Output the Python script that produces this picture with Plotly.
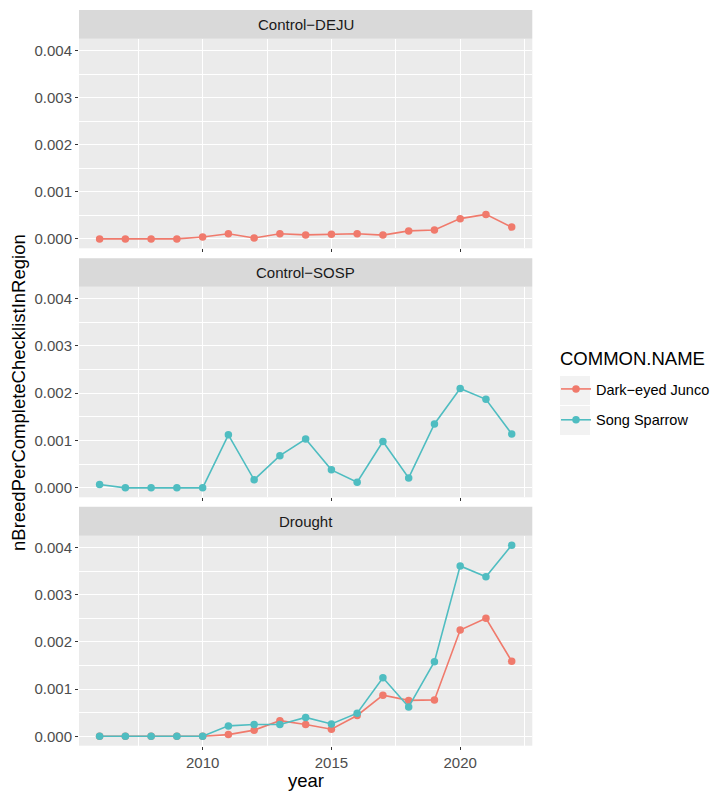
import plotly.graph_objects as go

years = list(range(2006, 2023))
facets = ["Control−DEJU", "Control−SOSP", "Drought"]
species = ["Dark−eyed Junco", "Song Sparrow"]
colors = {"Dark−eyed Junco": "#F07A6C", "Song Sparrow": "#4FBDC1"}

deju_control = [0, 0, 0, 0, 0.00004, 0.00011, 0.00002, 0.00011, 0.000085, 0.0001,
                0.00011, 0.00008, 0.00017, 0.00019, 0.00043, 0.00052, 0.00025]
sosp_control = [0.00007, 0, 0, 0, 0, 0.00112, 0.00017, 0.00068, 0.00103, 0.00038,
                0.00012, 0.00098, 0.00021, 0.00135, 0.0021, 0.00187, 0.00114]
deju_drought = [0, 0, 0, 0, 0, 0.000035, 0.00013, 0.00033, 0.00025, 0.00015,
                0.00044, 0.00087, 0.00076, 0.00077, 0.00225, 0.0025, 0.00159]
sosp_drought = [0, 0, 0, 0, 0, 0.00022, 0.00025, 0.00025, 0.0004, 0.00026,
                0.00049, 0.00124, 0.00062, 0.00158, 0.00361, 0.00338, 0.00405]

y_ticks = [0.0, 0.001, 0.002, 0.003, 0.004]
y_tick_labels = ["0.000", "0.001", "0.002", "0.003", "0.004"]
x_ticks = [2010, 2015, 2020]
x_tick_labels = ["2010", "2015", "2020"]

panel_data = [
    [("Dark−eyed Junco", deju_control)],
    [("Song Sparrow", sosp_control)],
    [("Dark−eyed Junco", deju_drought), ("Song Sparrow", sosp_drought)],
]

# page body has an 8px margin: figure placed at (8, 8)
OFF = 8
W, H = 721 - OFF, 792 - OFF


def xp(px):
    return (px - OFF) / W


def yp(py):
    return 1 - (py - OFF) / H


px_left, px_right = 79, 532.3
# (strip_top, panel_top, panel_bottom) in page pixels from top
rows_px = [(10, 38.8, 248.3), (258.3, 286.7, 497.3), (506.7, 535.7, 745.7)]

FONT = "Liberation Sans, Arial, Helvetica, sans-serif"
fig = go.Figure()
shown = set()
for i, items in enumerate(panel_data):
    ax = "" if i == 0 else str(i + 1)
    for name, vals in items:
        fig.add_trace(go.Scatter(
            x=years, y=vals, mode="lines+markers", name=name,
            legendgroup=name, showlegend=name not in shown,
            line=dict(color=colors[name], width=1.6),
            marker=dict(color=colors[name], size=7.5),
            xaxis="x" + ax, yaxis="y" + ax,
        ))
        shown.add(name)

layout = dict(
    width=W, height=H, margin=dict(l=0, r=0, t=0, b=0, autoexpand=False),
    paper_bgcolor="white", plot_bgcolor="#EBEBEB",
    font=dict(family=FONT, color="#000000"),
    showlegend=True,
    legend=dict(
        x=xp(556), y=yp(373), xanchor="left", yanchor="top",
        font=dict(size=14.5, color="black"),
        traceorder="grouped", tracegroupgap=9,
        bgcolor="rgba(0,0,0,0)",
    ),
)

shapes = []
annotations = []
for i, (st, pt, pb) in enumerate(rows_px):
    key = "" if i == 0 else str(i + 1)
    layout["xaxis" + key] = dict(
        domain=[xp(px_left), xp(px_right)], range=[2005.2, 2022.8],
        anchor="y" + key, automargin=False,
        tickvals=x_ticks, ticktext=x_tick_labels if i == 2 else ["", "", ""],
        showticklabels=(i == 2),
        ticks="outside", ticklen=3, tickcolor="#333333", tickwidth=1,
        showgrid=True, gridcolor="white", gridwidth=1.1,
        minor=dict(tickvals=[2007.5, 2012.5, 2017.5, 2022.5], showgrid=True,
                   gridcolor="white", gridwidth=0.5, ticks=""),
        zeroline=False, showline=False,
        tickfont=dict(size=15, color="#4D4D4D"),
    )
    layout["yaxis" + key] = dict(
        domain=[yp(pb), yp(pt)], range=[-0.0002, 0.00425],
        anchor="x" + key, automargin=False,
        tickvals=y_ticks, ticktext=y_tick_labels,
        ticks="outside", ticklen=3, tickcolor="#333333", tickwidth=1,
        showgrid=True, gridcolor="white", gridwidth=1.1,
        minor=dict(tickvals=[0.0005, 0.0015, 0.0025, 0.0035], showgrid=True,
                   gridcolor="white", gridwidth=0.5, ticks=""),
        zeroline=False, showline=False,
        tickfont=dict(size=15, color="#4D4D4D"),
    )
    shapes.append(dict(type="rect", xref="paper", yref="paper",
                       x0=xp(px_left), x1=xp(px_right), y0=yp(pt), y1=yp(st),
                       fillcolor="#D9D9D9", line=dict(width=0), layer="below"))
    annotations.append(dict(text=facets[i], xref="paper", yref="paper",
                            x=xp((px_left + px_right) / 2), y=yp((st + pt) / 2),
                            showarrow=False, xanchor="center", yanchor="middle",
                            font=dict(size=15, color="#1A1A1A")))

# legend key backgrounds
for yy in (376, 406):
    shapes.append(dict(type="rect", xref="paper", yref="paper",
                       x0=xp(560), x1=xp(590), y0=yp(yy + 29), y1=yp(yy),
                       fillcolor="#F2F2F2", line=dict(width=0), layer="below"))

annotations.append(dict(text="COMMON.NAME", xref="paper", yref="paper",
                        x=xp(558), y=yp(358), showarrow=False,
                        xanchor="left", yanchor="middle",
                        font=dict(size=18.5, color="black")))
annotations.append(dict(text="year", xref="paper", yref="paper",
                        x=xp((px_left + px_right) / 2), y=yp(780),
                        showarrow=False, xanchor="center", yanchor="middle",
                        font=dict(size=18.5, color="black")))
annotations.append(dict(text="nBreedPerCompleteChecklistInRegion", xref="paper", yref="paper",
                        x=xp(18), y=yp(393), textangle=-90,
                        showarrow=False, xanchor="center", yanchor="middle",
                        font=dict(size=18.5, color="black")))

layout["shapes"] = shapes
layout["annotations"] = annotations
fig.update_layout(**layout)
fig.write_html("out.html")
